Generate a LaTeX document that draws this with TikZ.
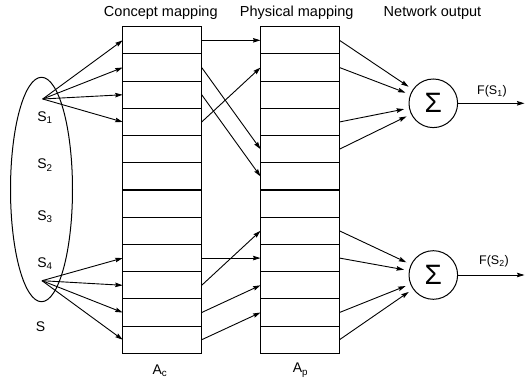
\documentclass[tikz,border=0pt]{standalone}
\usepackage{fontspec}
\setmainfont{Liberation Sans}
\usetikzlibrary{arrows.meta,shapes.geometric}
\begin{document}
\begin{tikzpicture}[x=1pt,y=-1pt,
  cell/.style={rectangle,minimum width=79pt,minimum height=27.22pt,inner sep=0pt,outer sep=0pt},
  frame/.style={line width=1.1pt},
  arr/.style={line width=0.9pt,-{Stealth[length=7.5pt,width=4.5pt,inset=1pt]}},
  lab/.style={font=\fontsize{14}{16}\selectfont,anchor=base,inner sep=0pt},
  ttl/.style={font=\fontsize{14.5}{17}\selectfont,anchor=base,inner sep=0pt},
  flab/.style={font=\fontsize{12.5}{15}\selectfont,anchor=base,inner sep=0pt},
  sig/.style={circle,draw,line width=1pt,minimum size=48.6pt,inner sep=0pt,font=\fontsize{28}{28}\selectfont},
  toSig/.style={arr,shorten >=5pt}]
\useasboundingbox (0,0) rectangle (525,379);
% titles
\node[ttl] (t1) at (160.8,16.7) {Concept mapping};
\node[ttl] (t2) at (296.7,16.7) {Physical mapping};
\node[ttl] (t3) at (432.5,16.7) {Network output};
% columns
\foreach \i in {1,...,12}{
  \node[cell] (c\i) at (162.2,{26.7+27.22*(\i-0.5)}) {};
  \node[cell] (p\i) at (300,{26.7+27.22*(\i-0.5)}) {};
}
\draw[frame] (c1.north west) rectangle (c12.south east);
\draw[frame] (p1.north west) rectangle (p12.south east);
\foreach \i in {1,...,11}{
  \draw[frame] (c\i.south west) -- (c\i.south east);
  \draw[frame] (p\i.south west) -- (p\i.south east);
}
% input set
\node[draw,ellipse,line width=1pt,minimum width=62pt,minimum height=224.4pt,inner sep=0pt] (S) at (41.5,189.5) {};
\coordinate (s1) at (42.7,99);
\coordinate (s4) at (42,280.7);
\node[lab] (l1) at (45,121.7) {S\textsubscript{1}};
\node[lab] (l2) at (45,169) {S\textsubscript{2}};
\node[lab] (l3) at (45,220.7) {S\textsubscript{3}};
\node[lab] (l4) at (45,267.3) {S\textsubscript{4}};
\node[lab] (ls) at (40.5,331.7) {S};
\node[lab] (ac) at (160,374) {A\textsubscript{c}};
\node[lab] (ap) at (300.5,373) {A\textsubscript{p}};
% inputs
\foreach \r in {1,2,3,4}{\draw[arr] (s1) -- (c\r.west);}
\foreach \r in {9,10,11,12}{\draw[arr] (s4) -- (c\r.west);}
% concept to physical
\draw[arr] (c1.east) -- (p1.west);
\draw[arr] (c2.east) -- (p5.west);
\draw[arr] (c3.east) -- (p6.west);
\draw[arr] (c4.east) -- (p2.west);
\draw[arr] (c9.east) -- (p9.west);
\draw[arr] (c10.east) -- (p8.west);
\draw[arr] (c11.east) -- (p10.west);
\draw[arr] (c12.east) -- (p11.west);
% sums
\node[sig] (sig1) at (433.3,103.3) {Σ};
\node[sig] (sig2) at (433.3,275) {Σ};
\foreach \r in {1,2,4,5}{\draw[toSig] (p\r.east) -- (sig1);}
\foreach \r in {8,9,11,12}{\draw[toSig] (p\r.east) -- (sig2);}
\coordinate (o1) at (524.5,103.3);
\coordinate (o2) at (524.5,275);
\draw[arr] (sig1) -- (o1);
\draw[arr] (sig2) -- (o2);
\node[flab] (f1) at (492,95) {F(S\textsubscript{1})};
\node[flab] (f2) at (494,265) {F(S\textsubscript{2})};
\end{tikzpicture}
\end{document}
